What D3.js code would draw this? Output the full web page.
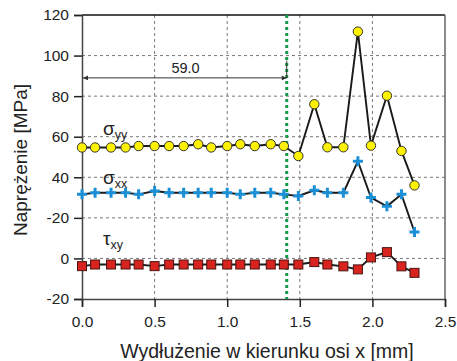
<!DOCTYPE html>
<html lang="pl">
<head>
<meta charset="UTF-8">
<title>naprezenia</title>
<script src="https://d3js.org/d3.v7.min.js"></script>
<style>
  body { margin: 0; background: #fff; }
  text { font-family: "Liberation Sans", Arial, sans-serif; fill: #222; }
</style>
</head>
<body>
<div id="chart"></div>
<script>
// x positions of the measurement points [mm]
const xs = [0, 0.09, 0.2, 0.3, 0.39, 0.5, 0.6, 0.7, 0.8, 0.89, 1.0, 1.09, 1.19, 1.3, 1.39, 1.49,
            1.6, 1.69, 1.8, 1.9, 1.99, 2.1, 2.2, 2.29];
const sigmaYY = [54.7, 54.7, 54.7, 54.7, 55.4, 55.4, 55.4, 55.4, 56.3, 54.7, 55.4, 56.3, 55.4, 56.3, 55.4, 50.5,
                 76.0, 54.8, 54.8, 111.8, 55.6, 80.2, 53.0, 36.0];
const sigmaXX = [31.6, 32.4, 32.4, 32.4, 31.6, 33.2, 32.4, 32.4, 32.4, 32.4, 32.4, 31.6, 32.4, 32.4, 31.6, 30.8,
                 33.6, 32.4, 32.4, 47.9, 30.0, 25.7, 31.6, 13.0];
const tauXY = [-3.8, -3.0, -3.0, -3.0, -3.0, -3.8, -3.0, -3.0, -3.0, -3.0, -3.0, -3.0, -3.0, -3.0, -3.0, -3.0,
               -1.8, -3.0, -3.9, -5.4, 0.5, 3.1, -3.9, -7.1];

const xTicks = [0, 0.5, 1.0, 1.5, 2.0, 2.5];
const yTicks = [-20, 0, 20, 40, 60, 80, 100, 120];
const yTickLabels = ["-20", "0", "-20", "40", "60", "80", "100", "120"];

// dimension annotation
const markX = 1.41;
const dimValue = "59.0";

const W = 457, H = 361;
const m = { left: 82, right: 12, top: 15, bottom: 62 };

const x = d3.scaleLinear().domain([0, 2.5]).range([m.left, W - m.right]);
const y = d3.scaleLinear().domain([-20, 120]).range([H - m.bottom, m.top]);

const svg = d3.select("#chart").append("svg")
    .attr("width", W).attr("height", H);

const defs = svg.append("defs");
defs.append("marker").attr("id", "arr").attr("viewBox", "0 0 10 10")
    .attr("refX", 10).attr("refY", 5).attr("markerWidth", 7).attr("markerHeight", 5)
    .attr("orient", "auto-start-reverse").attr("markerUnits", "userSpaceOnUse")
    .append("path").attr("d", "M0,0L10,5L0,10Z").attr("fill", "#333");

// grid
const grid = svg.append("g").attr("stroke", "#777").attr("stroke-dasharray", "3,3").attr("stroke-width", 1);
grid.selectAll(".gx").data(xTicks.slice(1, -1)).enter().append("line")
    .attr("x1", d => x(d)).attr("x2", d => x(d)).attr("y1", y(120)).attr("y2", y(-20));
grid.selectAll(".gy").data(yTicks.slice(1, -1)).enter().append("line")
    .attr("x1", x(0)).attr("x2", x(2.5)).attr("y1", d => y(d)).attr("y2", d => y(d));

// frame top / right
svg.append("line").attr("x1", x(0)).attr("x2", x(2.5)).attr("y1", y(120)).attr("y2", y(120))
    .attr("stroke", "#111").attr("stroke-width", 1.5);
svg.append("line").attr("x1", x(2.5)).attr("x2", x(2.5)).attr("y1", y(120)).attr("y2", y(-20))
    .attr("stroke", "#666").attr("stroke-width", 1.5);

// axes
const xAxis = svg.append("g").attr("transform", `translate(0,${y(-20)})`)
    .call(d3.axisBottom(x).tickValues(xTicks).tickFormat(d3.format(".1f")).tickSize(8).tickPadding(9));
const yAxis = svg.append("g").attr("transform", `translate(${x(0)},0)`)
    .call(d3.axisLeft(y).tickValues(yTicks).tickFormat((d, i) => yTickLabels[i]).tickSize(8).tickPadding(5));
[xAxis, yAxis].forEach(a => {
  a.selectAll("text").style("font-size", "15.5px").attr("fill", "#222");
  a.selectAll("line").attr("stroke", "#222").attr("stroke-width", 1.5);
  a.select(".domain").attr("stroke", "#444").attr("stroke-width", 1.5);
});

// axis titles
svg.append("text").attr("x", 267).attr("y", 358)
    .attr("text-anchor", "middle").style("font-size", "19.5px").text("Wydłużenie w kierunku osi x [mm]");
svg.append("text").attr("transform", `translate(27,${(y(120) + y(-20)) / 2 + 3}) rotate(-90)`)
    .attr("text-anchor", "middle").style("font-size", "19px").text("Naprężenie [MPa]");

// green marker line
svg.append("line").attr("x1", x(markX)).attr("x2", x(markX)).attr("y1", y(120)).attr("y2", y(-20))
    .attr("stroke", "#12994a").attr("stroke-width", 3).attr("stroke-dasharray", "3,3");

// dimension
const dim = svg.append("g").attr("stroke", "#333").attr("stroke-width", 1);
dim.append("line").attr("x1", x(0) + 1).attr("x2", x(markX)).attr("y1", y(89)).attr("y2", y(89))
    .attr("marker-start", "url(#arr)").attr("marker-end", "url(#arr)");
dim.append("line").attr("x1", x(markX)).attr("x2", x(markX)).attr("y1", y(89)).attr("y2", y(97.5));
svg.append("text").attr("x", x(0.713)).attr("y", y(91.6)).attr("text-anchor", "middle")
    .style("font-size", "14.5px").text(dimValue);

// series
const line = d3.line().x(d => x(d[0])).y(d => y(d[1]));
const series = [
  { vals: sigmaYY, type: "circle" },
  { vals: sigmaXX, type: "plus" },
  { vals: tauXY, type: "square" }
];
series.forEach(s => {
  const pts = xs.map((v, i) => [v, s.vals[i]]);
  svg.append("path").datum(pts).attr("d", line)
      .attr("fill", "none").attr("stroke", "#1a1a1a").attr("stroke-width", 1.9);
  const g = svg.append("g");
  if (s.type === "circle") {
    g.selectAll("circle").data(pts).enter().append("circle")
        .attr("cx", d => x(d[0])).attr("cy", d => y(d[1])).attr("r", 4.7)
        .attr("fill", "#fff200").attr("stroke", "#333").attr("stroke-width", 1);
  } else if (s.type === "plus") {
    g.selectAll("path").data(pts).enter().append("path")
        .attr("transform", d => `translate(${x(d[0])},${y(d[1])})`)
        .attr("d", "M-5,0H5M0,-5V5").attr("stroke", "#1b8fd6").attr("stroke-width", 3);
  } else {
    g.selectAll("rect").data(pts).enter().append("rect")
        .attr("x", d => x(d[0]) - 4.5).attr("y", d => y(d[1]) - 4.5).attr("width", 9).attr("height", 9)
        .attr("fill", "#d8231e").attr("stroke", "#4a1410").attr("stroke-width", 1);
  }
});

// series labels
function label(px, py, main, sub) {
  const t = svg.append("text").attr("x", px).attr("y", py).style("font-size", "19px");
  t.append("tspan").text(main);
  t.append("tspan").attr("dy", 4).style("font-size", "12.5px").text(sub);
}
label(x(0.145), y(60.8), "σ", "yy");
label(x(0.145), y(36.5), "σ", "xx");
label(x(0.145), y(6.5), "τ", "xy");
</script>
</body>
</html>
